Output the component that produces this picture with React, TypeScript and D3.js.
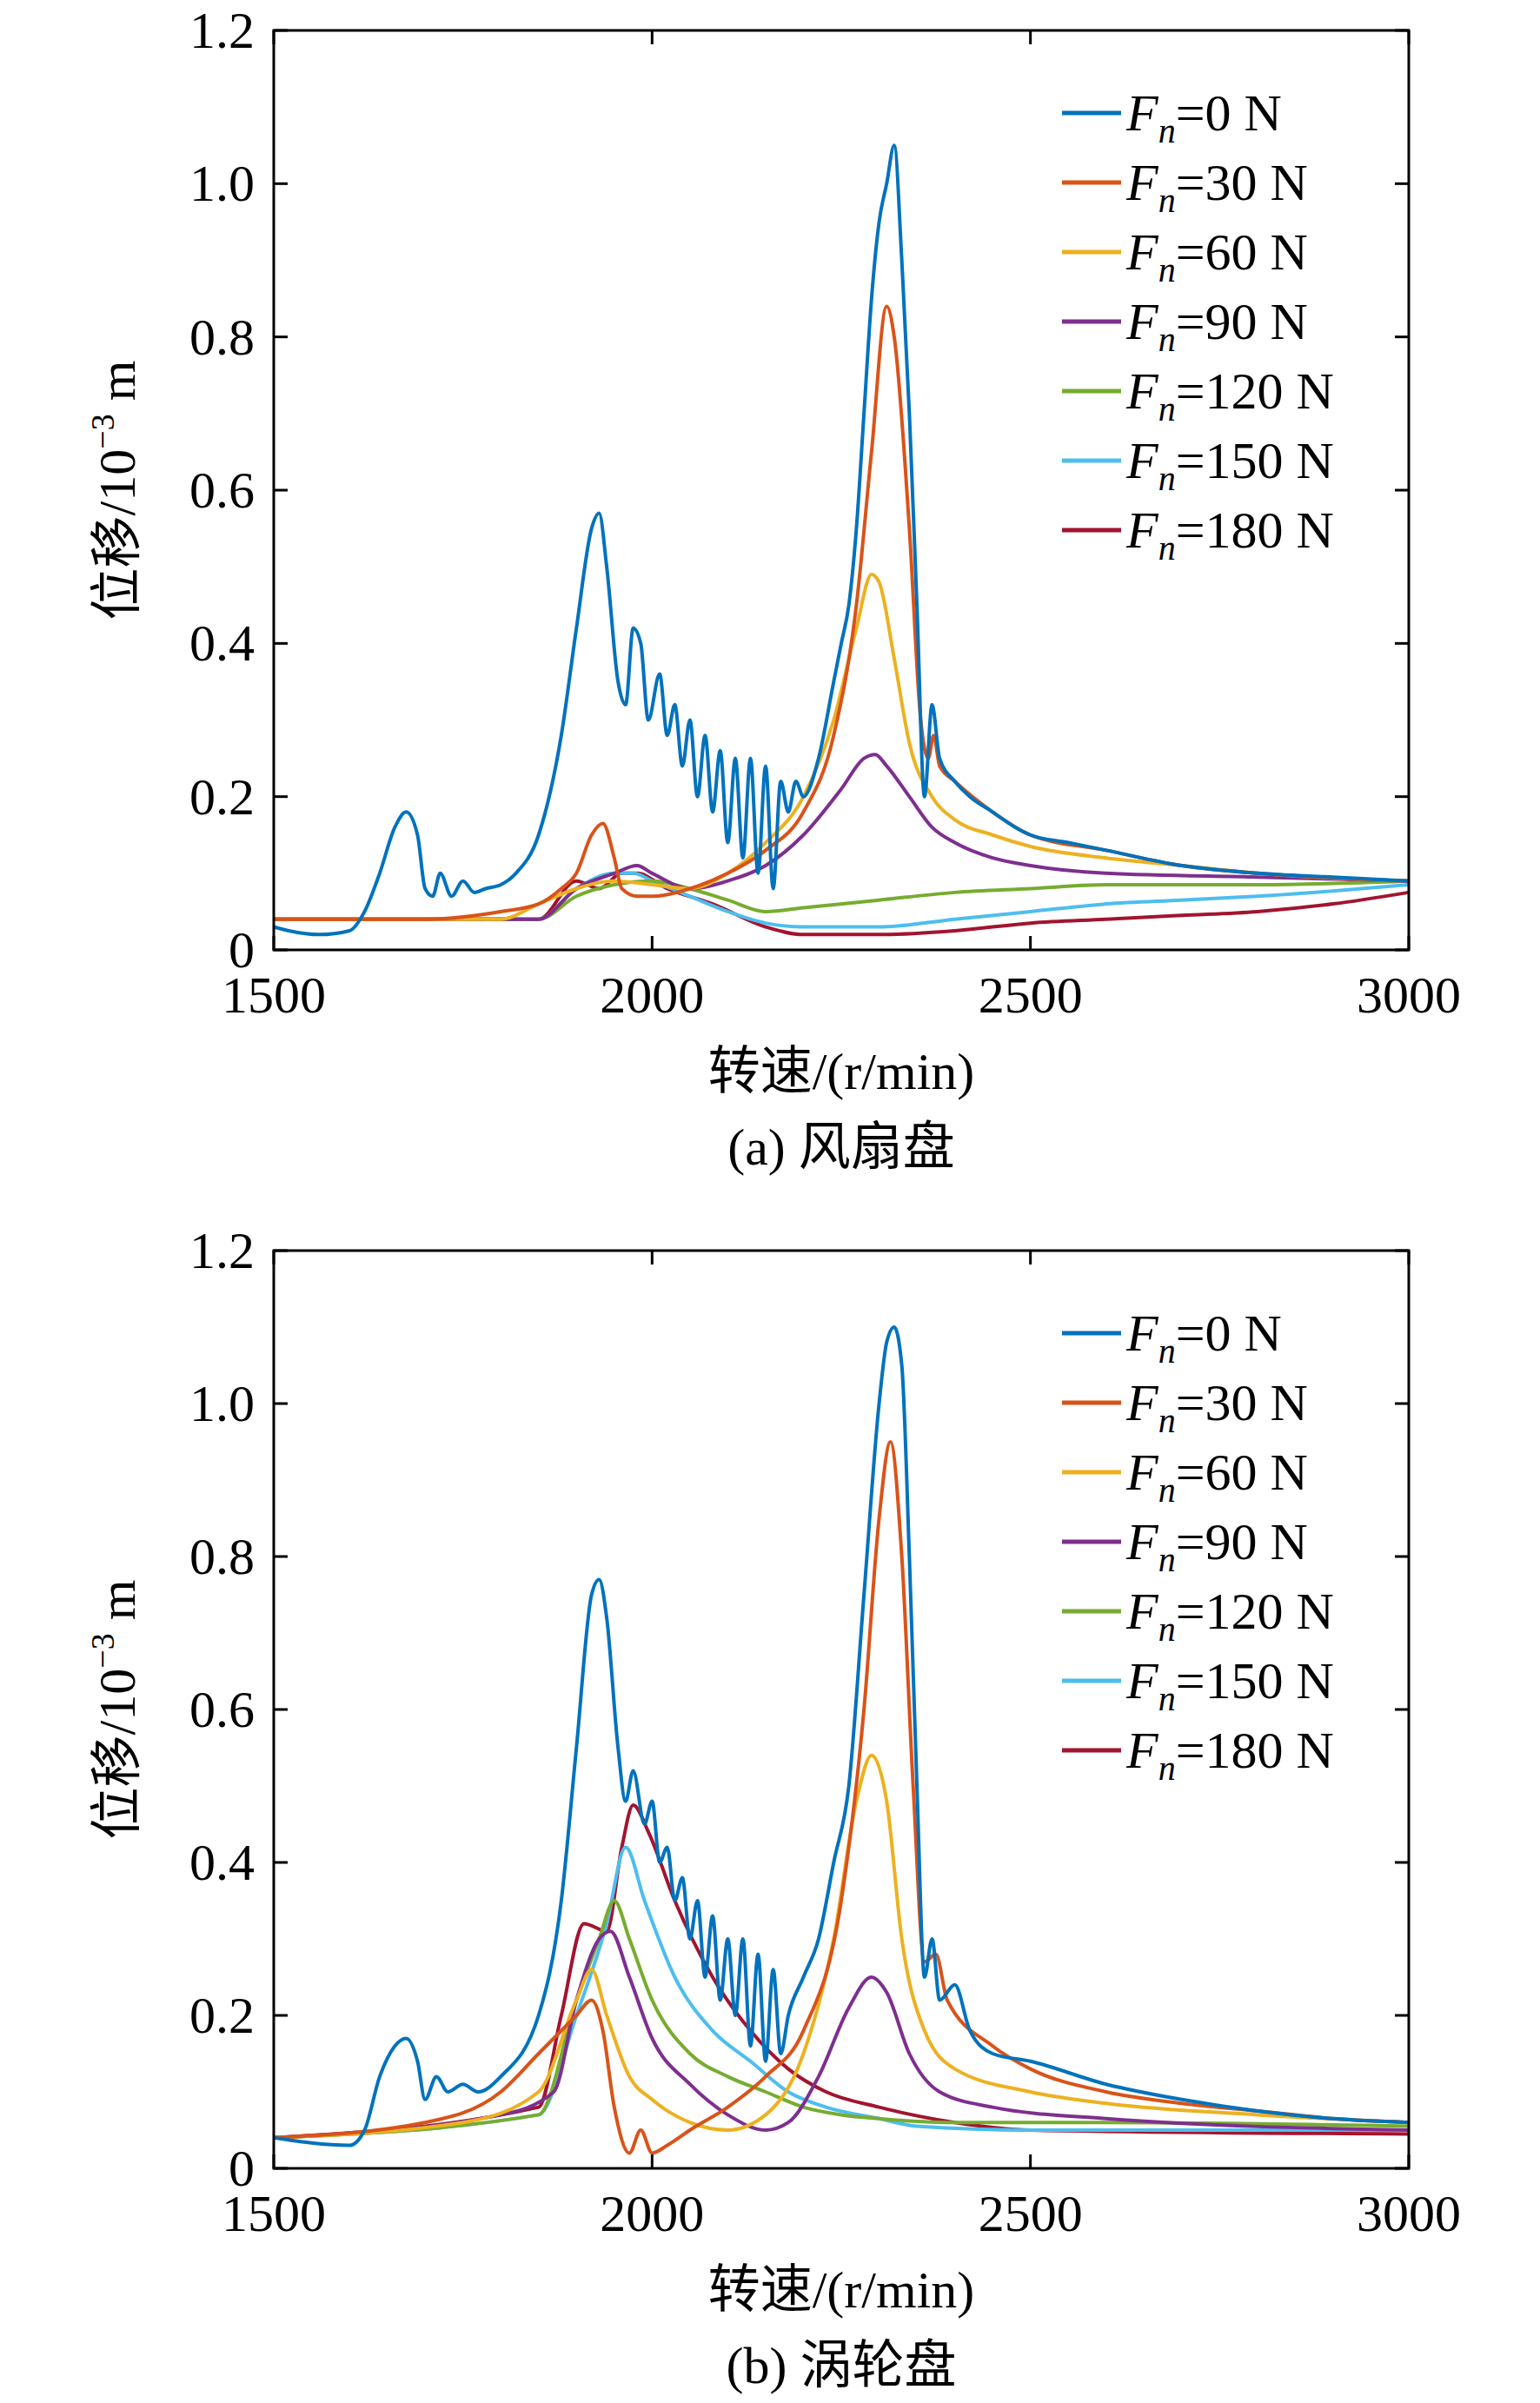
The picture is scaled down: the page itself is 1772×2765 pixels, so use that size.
import React from "react";
import * as d3 from "d3";

type P = [number, number];
const labels = ["0 N", "30 N", "60 N", "90 N", "120 N", "150 N", "180 N"];
const colors = ["#0072BD", "#D95319", "#EDB120", "#7E2F8E", "#77AC30", "#4DBEEE", "#A2142F"];
const xTicks = [1500, 2000, 2500, 3000];
const yTicks = [0, 0.2, 0.4, 0.6, 0.8, 1.0, 1.2];

const a0: P[] = [[1500,0.03],[1520,0.025],[1560,0.02],[1600,0.025],[1620,0.05],[1640,0.1],[1660,0.16],[1675,0.18],[1690,0.15],[1700,0.08],[1710,0.07],[1720,0.1],[1735,0.07],[1750,0.09],[1765,0.075],[1780,0.08],[1800,0.085],[1820,0.1],[1850,0.15],[1880,0.28],[1900,0.42],[1920,0.55],[1930,0.57],[1940,0.5],[1955,0.35],[1965,0.32],[1975,0.42],[1985,0.4],[1995,0.3],[2010,0.36],[2020,0.28],[2030,0.32],[2040,0.24],[2050,0.3],[2060,0.2],[2070,0.28],[2080,0.18],[2090,0.26],[2100,0.14],[2110,0.25],[2120,0.12],[2130,0.25],[2140,0.1],[2150,0.24],[2160,0.08],[2170,0.22],[2180,0.18],[2190,0.22],[2200,0.2],[2220,0.25],[2240,0.35],[2250,0.4],[2260,0.45],[2270,0.55],[2280,0.7],[2290,0.85],[2300,0.95],[2310,1.0],[2320,1.05],[2330,0.9],[2340,0.7],[2350,0.45],[2360,0.2],[2370,0.32],[2380,0.25],[2400,0.22],[2420,0.2],[2450,0.18],[2480,0.16],[2500,0.15],[2550,0.14],[2600,0.13],[2700,0.11],[2800,0.1],[2900,0.095],[3000,0.09]];
const a30: P[] = [[1500,0.04],[1700,0.04],[1800,0.05],[1850,0.06],[1880,0.08],[1900,0.1],[1920,0.15],[1935,0.165],[1950,0.12],[1960,0.08],[1980,0.07],[2000,0.07],[2050,0.08],[2100,0.1],[2150,0.13],[2200,0.18],[2240,0.28],[2270,0.45],[2290,0.65],[2310,0.84],[2320,0.8],[2340,0.55],[2355,0.3],[2365,0.25],[2372,0.28],[2380,0.24],[2400,0.22],[2450,0.18],[2500,0.15],[2600,0.13],[2700,0.11],[2800,0.1],[3000,0.09]];
const a60: P[] = [[1500,0.04],[1800,0.04],[1850,0.06],[1900,0.08],[1950,0.09],[2000,0.085],[2050,0.08],[2100,0.1],[2150,0.14],[2200,0.2],[2240,0.3],[2270,0.42],[2290,0.49],[2300,0.48],[2320,0.38],[2340,0.27],[2370,0.2],[2400,0.17],[2450,0.15],[2500,0.135],[2600,0.12],[2700,0.11],[2800,0.1],[3000,0.09]];
const a90: P[] = [[1500,0.04],[1850,0.04],[1900,0.08],[1950,0.1],[1980,0.11],[2000,0.1],[2050,0.08],[2100,0.09],[2150,0.11],[2200,0.15],[2250,0.21],[2280,0.25],[2295,0.255],[2310,0.24],[2340,0.2],[2370,0.16],[2400,0.14],[2450,0.12],[2500,0.11],[2600,0.1],[2800,0.095],[3000,0.09]];
const a120: P[] = [[1500,0.04],[1850,0.04],[1900,0.07],[1950,0.085],[2000,0.09],[2050,0.08],[2100,0.065],[2150,0.05],[2200,0.055],[2300,0.065],[2400,0.075],[2500,0.08],[2600,0.085],[2800,0.085],[3000,0.09]];
const a150: P[] = [[1500,0.04],[1850,0.04],[1900,0.08],[1950,0.1],[1975,0.1],[2000,0.09],[2050,0.07],[2100,0.05],[2150,0.035],[2200,0.03],[2300,0.03],[2400,0.04],[2500,0.05],[2600,0.06],[2700,0.065],[2800,0.07],[3000,0.085]];
const a180: P[] = [[1500,0.04],[1850,0.04],[1900,0.09],[1930,0.08],[1960,0.1],[1980,0.1],[2020,0.08],[2080,0.06],[2150,0.03],[2200,0.02],[2300,0.02],[2400,0.025],[2500,0.035],[2600,0.04],[2700,0.045],[2800,0.05],[2900,0.06],[3000,0.075]];

const b0: P[] = [[1500,0.04],[1600,0.03],[1620,0.05],[1640,0.12],[1660,0.16],[1675,0.17],[1690,0.14],[1700,0.09],[1715,0.12],[1730,0.1],[1750,0.11],[1770,0.1],[1800,0.12],[1850,0.2],[1880,0.35],[1900,0.55],[1920,0.75],[1930,0.77],[1940,0.72],[1955,0.55],[1965,0.48],[1975,0.52],[1990,0.45],[2000,0.48],[2010,0.4],[2020,0.42],[2030,0.35],[2040,0.38],[2050,0.3],[2060,0.35],[2070,0.25],[2080,0.33],[2090,0.22],[2100,0.3],[2110,0.2],[2120,0.3],[2130,0.16],[2140,0.28],[2150,0.14],[2160,0.26],[2170,0.15],[2180,0.2],[2200,0.25],[2220,0.3],[2240,0.4],[2260,0.5],[2280,0.75],[2300,1.0],[2310,1.08],[2320,1.1],[2330,1.05],[2340,0.8],[2350,0.5],[2360,0.25],[2370,0.3],[2380,0.22],[2400,0.24],[2420,0.18],[2450,0.15],[2500,0.14],[2600,0.11],[2700,0.09],[2800,0.075],[2900,0.065],[3000,0.06]];
const b30: P[] = [[1500,0.04],[1700,0.06],[1800,0.1],[1850,0.15],[1900,0.2],[1920,0.22],[1935,0.18],[1950,0.08],[1970,0.02],[1985,0.05],[2000,0.02],[2020,0.03],[2050,0.05],[2100,0.08],[2150,0.12],[2200,0.18],[2250,0.35],[2280,0.6],[2300,0.85],[2315,0.95],[2330,0.8],[2345,0.5],[2360,0.27],[2375,0.28],[2390,0.22],[2450,0.16],[2500,0.13],[2600,0.1],[2700,0.085],[2800,0.075],[2900,0.065],[3000,0.06]];
const b60: P[] = [[1500,0.04],[1750,0.06],[1850,0.1],[1900,0.22],[1920,0.26],[1940,0.2],[1970,0.12],[2000,0.09],[2050,0.06],[2100,0.05],[2150,0.07],[2200,0.15],[2240,0.3],[2270,0.48],[2290,0.54],[2310,0.48],[2330,0.3],[2360,0.18],[2400,0.13],[2500,0.1],[2600,0.085],[2800,0.07],[3000,0.06]];
const b90: P[] = [[1500,0.04],[1800,0.07],[1870,0.1],[1900,0.22],[1930,0.3],[1945,0.31],[1970,0.25],[2000,0.17],[2050,0.11],[2100,0.07],[2150,0.05],[2180,0.06],[2220,0.12],[2260,0.21],[2290,0.25],[2310,0.23],[2340,0.15],[2380,0.1],[2450,0.08],[2600,0.065],[3000,0.05]];
const b120: P[] = [[1500,0.04],[1850,0.07],[1900,0.22],[1930,0.3],[1950,0.35],[1970,0.3],[2000,0.22],[2050,0.15],[2100,0.12],[2150,0.1],[2200,0.08],[2250,0.07],[2300,0.065],[2400,0.06],[2600,0.06],[3000,0.055]];
const b150: P[] = [[1500,0.04],[1850,0.07],[1900,0.2],[1940,0.32],[1965,0.42],[1990,0.35],[2030,0.25],[2080,0.18],[2130,0.14],[2180,0.1],[2230,0.08],[2300,0.065],[2350,0.055],[2500,0.05],[3000,0.05]];
const b180: P[] = [[1500,0.04],[1850,0.08],[1880,0.2],[1910,0.32],[1940,0.31],[1960,0.42],[1975,0.475],[1995,0.44],[2030,0.35],[2080,0.25],[2130,0.18],[2180,0.13],[2230,0.1],[2300,0.08],[2400,0.06],[2500,0.05],[3000,0.045]];

const seriesA = [a0, a30, a60, a90, a120, a150, a180];
const seriesB = [b0, b30, b60, b90, b120, b150, b180];

const FONT = "'Liberation Serif', 'Times New Roman', serif";
const CJK = "'Noto Sans CJK SC', sans-serif";

function Panel({ top, bottom, data }: { top: number; bottom: number; data: P[][] }) {
  const L = 315, R = 1621;
  const x = d3.scaleLinear().domain([1500, 3000]).range([L, R]);
  const y = d3.scaleLinear().domain([0, 1.2]).range([bottom, top]);
  const line = d3.line<P>().x(d => x(d[0])).y(d => y(d[1])).curve(d3.curveMonotoneX);
  const tk = 16;
  return (
    <g>
      {[...data].reverse().map((s, i) => (
        <path key={i} d={line(s) || ""} fill="none" stroke={colors[data.length - 1 - i]} strokeWidth={4} strokeLinejoin="round" />
      ))}
      <rect x={L} y={top} width={R - L} height={bottom - top} fill="none" stroke="#000" strokeWidth={3} />
      {xTicks.map(t => (
        <g key={t}>
          <line x1={x(t)} x2={x(t)} y1={bottom} y2={bottom - tk} stroke="#000" strokeWidth={3} />
          <line x1={x(t)} x2={x(t)} y1={top} y2={top + tk} stroke="#000" strokeWidth={3} />
          <text x={x(t)} y={bottom + 72} textAnchor="middle" fontFamily={FONT} fontSize={60}>{t}</text>
        </g>
      ))}
      {yTicks.map(t => (
        <g key={t}>
          <line x1={L} x2={L + tk} y1={y(t)} y2={y(t)} stroke="#000" strokeWidth={3} />
          <line x1={R} x2={R - tk} y1={y(t)} y2={y(t)} stroke="#000" strokeWidth={3} />
          <text x={L - 22} y={y(t) + 20} textAnchor="end" fontFamily={FONT} fontSize={60}>{t === 0 ? "0" : t.toFixed(1)}</text>
        </g>
      ))}
      {labels.map((lb, i) => {
        const ly = top + 95 + i * 80;
        return (
          <g key={lb}>
            <line x1={1222} x2={1290} y1={ly} y2={ly} stroke={colors[i]} strokeWidth={5} />
            <text x={1296} y={ly + 20} fontFamily={FONT} fontSize={60}>
              <tspan fontStyle="italic">F</tspan>
              <tspan fontStyle="italic" fontSize={40} dy={14}>n</tspan>
              <tspan dy={-14}>={lb}</tspan>
            </text>
          </g>
        );
      })}
      <text x={(L + R) / 2} y={bottom + 160} textAnchor="middle" fontSize={60}>
        <tspan fontFamily={CJK}>转速</tspan><tspan fontFamily={FONT}>/(r/min)</tspan>
      </text>
      <text transform={`translate(155, ${(top + bottom) / 2}) rotate(-90)`} textAnchor="middle" fontSize={60}>
        <tspan fontFamily={CJK}>位移</tspan><tspan fontFamily={FONT}>/10</tspan>
        <tspan fontFamily={FONT} fontSize={38} dy={-24}>−3</tspan>
        <tspan fontFamily={FONT} dy={24}> m</tspan>
      </text>
    </g>
  );
}

function Caption({ yPos, tag, name }: { yPos: number; tag: string; name: string }) {
  return (
    <text x={968} y={yPos} textAnchor="middle" fontSize={60}>
      <tspan fontFamily={FONT}>{tag} </tspan><tspan fontFamily={CJK}>{name}</tspan>
    </text>
  );
}

export default function App() {
  return (
    <svg width={1772} height={2765} style={{ position: "absolute", left: 0, top: 0, background: "#fff" }}>
      <rect width={1772} height={2765} fill="#fff" />
      <Panel top={35} bottom={1093} data={seriesA} />
      <Caption yPos={1340} tag="(a)" name="风扇盘" />
      <Panel top={1439} bottom={2495} data={seriesB} />
      <Caption yPos={2742} tag="(b)" name="涡轮盘" />
    </svg>
  );
}
